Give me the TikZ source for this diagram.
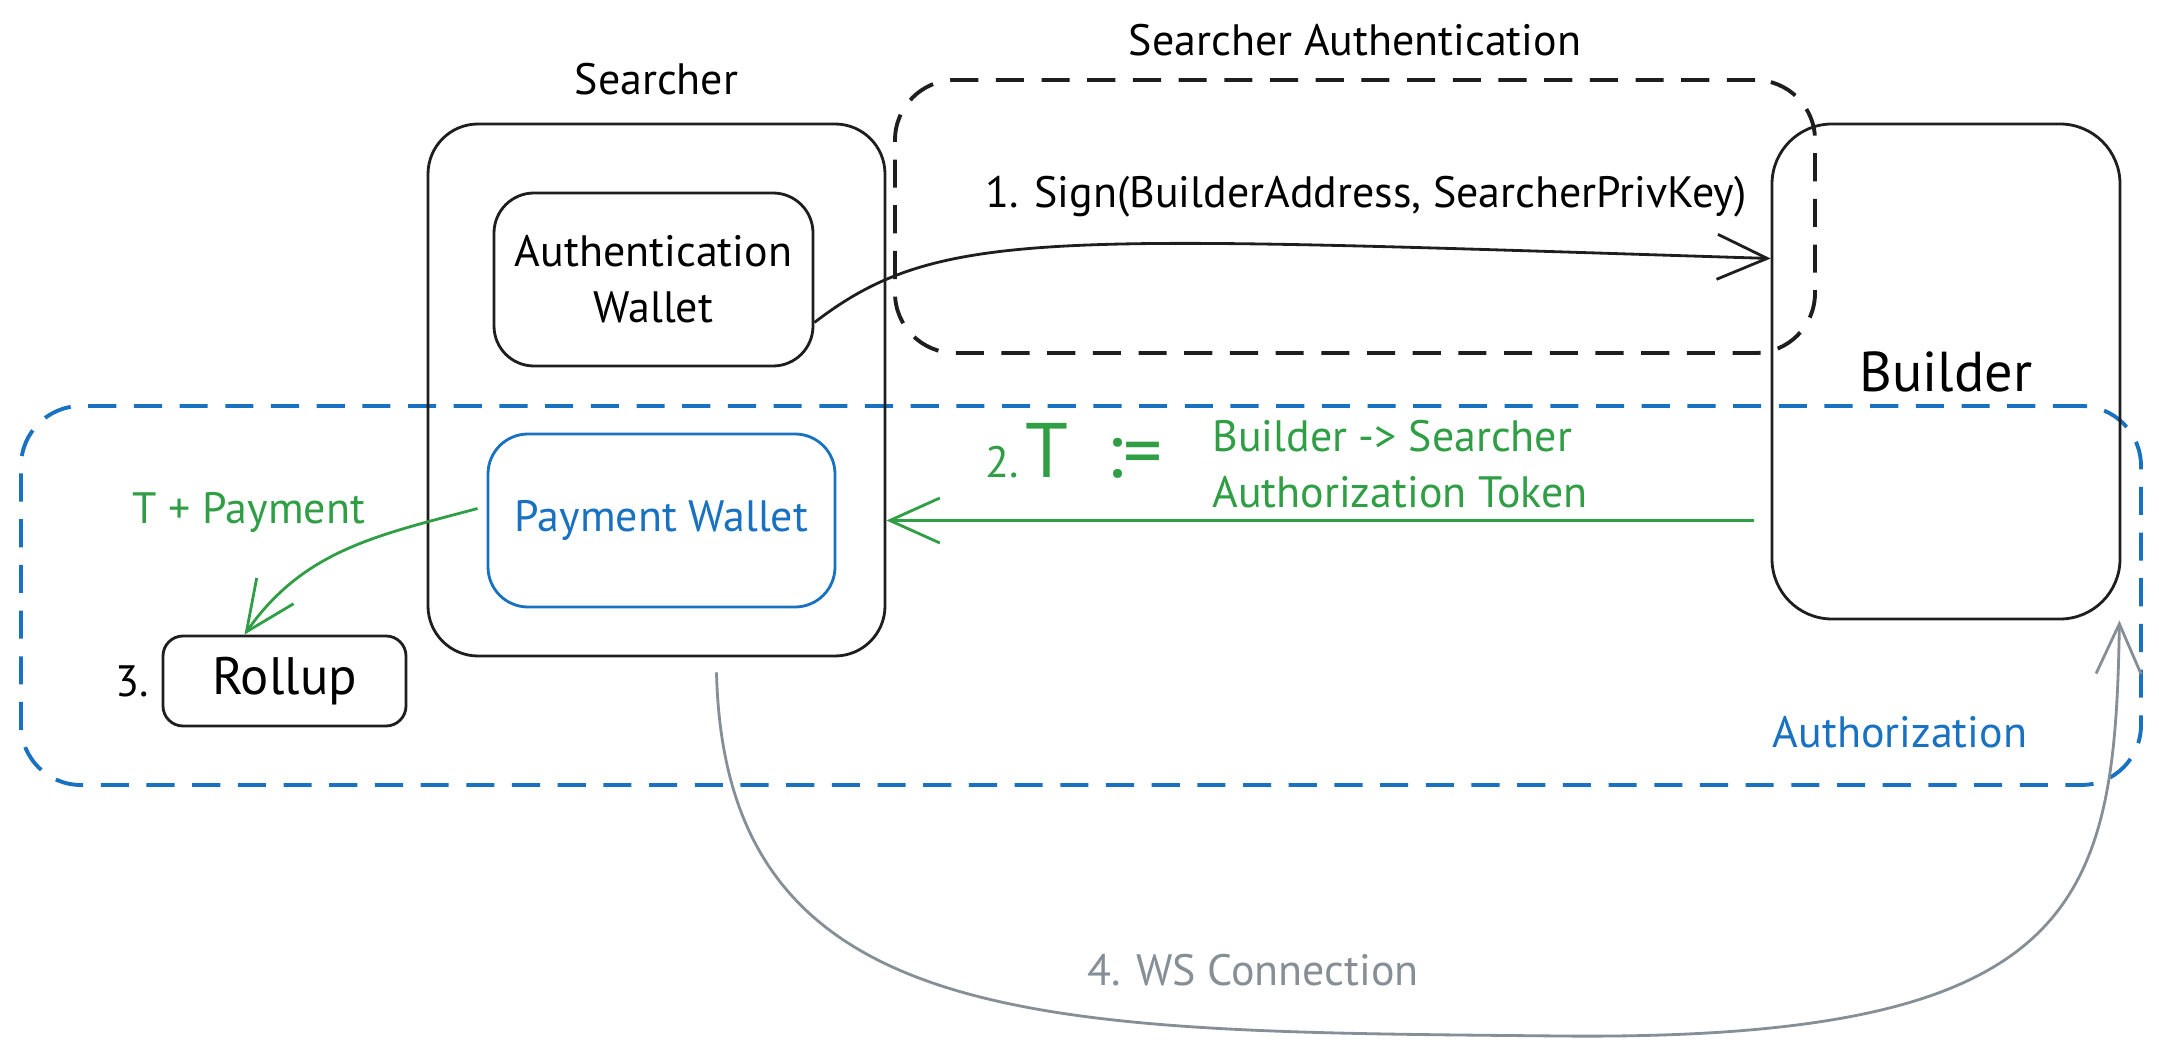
\documentclass[tikz,border=0pt]{standalone}
\usepackage{fontspec}
\setmainfont{PT Sans}
\usetikzlibrary{arrows.meta,positioning}
\definecolor{ink}{HTML}{1E1E1E}
\definecolor{authblue}{HTML}{1971C2}
\definecolor{tokgreen}{HTML}{2F9E44}
\definecolor{wsgray}{HTML}{868E96}

\begin{document}
\begin{tikzpicture}[
        >={Straight Barb[length=5mm,width=4.5mm]},
        txt/.style={font=\fontsize{12.5}{16}\selectfont},
        bigtxt/.style={font=\fontsize{16}{19}\selectfont},
        box/.style={draw=ink,thick,rounded corners=0.5cm},
        zone/.style={draw=#1,line width=1.1pt,dash pattern=on 8pt off 5pt,rounded corners=0.6cm}
    ]
    \useasboundingbox (0,0) rectangle (21.59,10.56);

    % the two dashed areas
    \node[zone=ink, minimum width=9.2cm, minimum height=2.73cm] (sauth) at (13.55,8.395) {};
    \node[txt, above=0.1cm of sauth] (sauthlbl) {Searcher Authentication};
    \node[zone=authblue, minimum width=21.2cm, minimum height=3.79cm] (authz) at (10.81,4.605) {};
    \node[txt, text=authblue] (authzlbl) at (19.0,3.24) {Authorization};

    % parties
    \node[box, minimum width=4.57cm, minimum height=5.32cm] (srch) at (6.565,6.66) {};
    \node[txt, above=0.15cm of srch] (srchlbl) {Searcher};
    \node[box, txt, align=center, rounded corners=0.4cm,
          minimum width=3.19cm, minimum height=1.73cm] (aw) at (6.535,7.765) {Authentication\\Wallet};
    \node[box, txt, draw=authblue, text=authblue, rounded corners=0.4cm,
          minimum width=3.47cm, minimum height=1.73cm] (pw) at (6.615,5.355) {Payment Wallet};
    \node[box, bigtxt, rounded corners=0.6cm,
          minimum width=3.48cm, minimum height=4.95cm] (bd) at (19.46,6.845) {Builder};
    \node[box, font=\fontsize{15}{18}\selectfont, rounded corners=0.2cm,
          minimum width=2.43cm, minimum height=0.9cm] (ru) at (2.845,3.75) {Rollup};
    \node[txt, left=0cm of ru] (n3) {3.};

    % 1. sign
    \draw[ink,thick,->] ([yshift=-0.43cm]aw.east) .. controls (9.4,8.3) and (10.5,8.2) .. ([yshift=1.13cm]bd.west);
    \node[txt] (sign) at (13.66,8.59) {1. Sign(BuilderAddress, SearcherPrivKey)};

    % 2. token
    \draw[tokgreen,thick,->,shorten <=0.17cm] (bd.west |- pw.center) -- (srch.east |- pw.center);
    \node[txt, text=tokgreen, align=left, anchor=west] (tok) at (12.0,5.92) {Builder -> Searcher\\Authorization Token};
    \node[text=tokgreen, anchor=east] (eq) at (11.75,6.05)
        {{\fontsize{12.5}{15}\selectfont 2.}\,{\fontsize{22}{26}\selectfont T\enspace:=}};

    % 3. payment
    \draw[tokgreen,thick,->] ([xshift=-0.09cm,yshift=0.12cm]pw.west) to[out=195,in=55] ([xshift=-0.4cm]ru.north);
    \node[txt, text=tokgreen] (pay) at (2.49,5.44) {T + Payment};

    % 4. websocket
    \draw[wsgray,thick,->] ([xshift=0.6cm,yshift=-0.15cm]srch.south)
        .. controls (7.25,0.2) and (10.5,0.25) .. (15.6,0.2)
        .. controls (20.8,0.15) and (21.15,1.5) .. ([xshift=-0.02cm]bd.south east);
    \node[txt, text=wsgray] (ws) at (12.53,0.86) {4. WS Connection};
\end{tikzpicture}
\end{document}
